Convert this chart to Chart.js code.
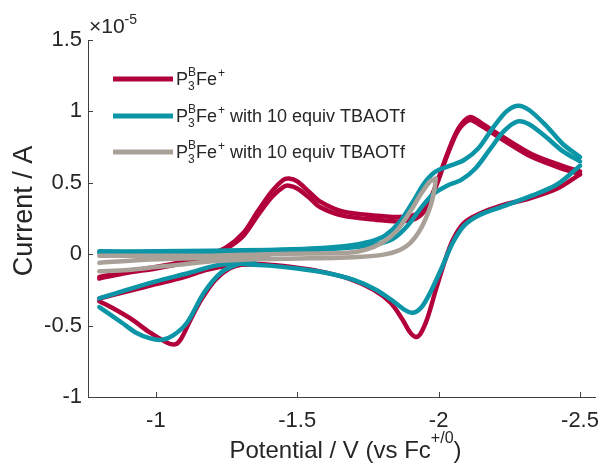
<!DOCTYPE html>
<html>
<head>
<meta charset="utf-8">
<script src="https://cdn.jsdelivr.net/npm/chart.js@4.4.1/dist/chart.umd.min.js"></script>
<style>
html, body { margin: 0; padding: 0; background: #fff; }
</style>
</head>
<body>
<canvas id="cv" width="600" height="463"></canvas>
<script>
// potential in V vs Fc+/0, current in units of 1e-5 A
const xTicks = [-2.5, -2, -1.5, -1];
const yTicks = [-1, -0.5, 0, 0.5, 1, 1.5];
const legendSuffix = ['', ' with 10 equiv TBAOTf', ' with 10 equiv TBAOTf'];
const colors = ['#B2003B', '#0B95A6', '#A9A097'];

// P3BFe+
const redFwd1 = [[-0.80,-0.16],[-0.90,-0.12],[-1.00,-0.09],[-1.10,-0.05],[-1.18,-0.01],[-1.25,0.05],[-1.31,0.15],[-1.36,0.30],[-1.41,0.44],[-1.45,0.52],[-1.47,0.53],[-1.50,0.51],[-1.54,0.44],[-1.58,0.37],[-1.66,0.30],[-1.78,0.27],[-1.86,0.26],[-1.92,0.28],[-1.96,0.35],[-1.99,0.48],[-2.03,0.70],[-2.07,0.88],[-2.11,0.96],[-2.15,0.92],[-2.22,0.83],[-2.33,0.70],[-2.45,0.61],[-2.50,0.58]];
const redFwd2 = [[-0.80,-0.17],[-0.90,-0.13],[-1.00,-0.10],[-1.10,-0.06],[-1.18,-0.02],[-1.25,0.04],[-1.31,0.13],[-1.36,0.27],[-1.41,0.40],[-1.45,0.47],[-1.47,0.48],[-1.50,0.46],[-1.54,0.40],[-1.58,0.33],[-1.66,0.27],[-1.78,0.24],[-1.86,0.23],[-1.92,0.25],[-1.96,0.33],[-1.99,0.47],[-2.03,0.69],[-2.07,0.87],[-2.11,0.94],[-2.15,0.90],[-2.22,0.81],[-2.33,0.68],[-2.45,0.59],[-2.50,0.56]];
const redRev = [[-2.50,0.56],[-2.42,0.46],[-2.32,0.39],[-2.22,0.34],[-2.14,0.28],[-2.09,0.22],[-2.05,0.10],[-2.02,-0.06],[-1.99,-0.25],[-1.96,-0.45],[-1.935,-0.56],[-1.92,-0.58],[-1.90,-0.55],[-1.87,-0.45],[-1.83,-0.34],[-1.77,-0.25],[-1.68,-0.17],[-1.58,-0.12],[-1.48,-0.09],[-1.38,-0.07],[-1.31,-0.07],[-1.26,-0.10],[-1.21,-0.18],[-1.16,-0.32],[-1.12,-0.47],[-1.09,-0.59],[-1.07,-0.63],[-1.04,-0.62],[-0.98,-0.55],[-0.91,-0.45],[-0.85,-0.38],[-0.80,-0.33]];
const redTail = [[-0.80,-0.31],[-0.90,-0.26],[-1.00,-0.21],[-1.10,-0.16],[-1.18,-0.11],[-1.26,-0.08],[-1.35,-0.07]];

// with 10 equiv TBAOTf
const tealFwd1 = [[-0.80,0.02],[-1.00,0.02],[-1.20,0.025],[-1.40,0.03],[-1.55,0.04],[-1.68,0.06],[-1.76,0.09],[-1.81,0.13],[-1.86,0.22],[-1.91,0.37],[-1.95,0.50],[-1.99,0.58],[-2.04,0.62],[-2.09,0.66],[-2.14,0.74],[-2.19,0.88],[-2.24,1.00],[-2.28,1.04],[-2.32,1.01],[-2.38,0.90],[-2.44,0.77],[-2.50,0.68]];
const tealFwd2 = [[-0.80,0.01],[-1.00,0.01],[-1.20,0.015],[-1.40,0.02],[-1.55,0.03],[-1.68,0.045],[-1.78,0.07],[-1.84,0.11],[-1.89,0.20],[-1.94,0.33],[-1.98,0.42],[-2.03,0.48],[-2.08,0.52],[-2.13,0.60],[-2.18,0.73],[-2.23,0.86],[-2.28,0.93],[-2.32,0.91],[-2.38,0.82],[-2.44,0.72],[-2.50,0.65]];
const tealRev = [[-2.50,0.62],[-2.42,0.49],[-2.33,0.41],[-2.22,0.33],[-2.14,0.27],[-2.09,0.20],[-2.05,0.08],[-2.01,-0.10],[-1.97,-0.27],[-1.94,-0.37],[-1.91,-0.41],[-1.88,-0.39],[-1.84,-0.33],[-1.78,-0.25],[-1.70,-0.18],[-1.60,-0.13],[-1.50,-0.10],[-1.40,-0.08],[-1.32,-0.07],[-1.29,-0.07],[-1.23,-0.13],[-1.17,-0.27],[-1.11,-0.48],[-1.06,-0.57],[-1.02,-0.60],[-0.98,-0.59],[-0.93,-0.55],[-0.88,-0.48],[-0.80,-0.37]];
const tealTail = [[-0.80,-0.31],[-0.88,-0.26],[-1.00,-0.19],[-1.12,-0.13],[-1.21,-0.08],[-1.29,-0.06],[-1.35,-0.06]];

// second TBAOTf trace
const grayFwd = [[-0.80,-0.01],[-1.00,-0.01],[-1.20,-0.01],[-1.40,0.0],[-1.55,0.005],[-1.68,0.01],[-1.74,0.03],[-1.80,0.08],[-1.85,0.16],[-1.90,0.30],[-1.94,0.43],[-1.97,0.51],[-1.99,0.53]];
const grayRev = [[-1.99,0.53],[-1.985,0.45],[-1.97,0.33],[-1.94,0.19],[-1.90,0.08],[-1.85,0.02],[-1.78,-0.01],[-1.65,-0.025],[-1.50,-0.03],[-1.35,-0.035],[-1.20,-0.05],[-1.10,-0.07],[-1.00,-0.09],[-0.90,-0.11],[-0.80,-0.12]];
const grayMid = [[-0.80,-0.06],[-0.95,-0.04],[-1.10,-0.03],[-1.25,-0.025],[-1.40,-0.02]];

const FONT = "'Liberation Sans', Arial, Helvetica, sans-serif";
const INK = '#262626';

function trace(pts, ci, order) {
  return {
    data: pts.map(p => ({ x: p[0], y: p[1] })),
    showLine: true,
    borderColor: colors[ci],
    borderWidth: 4.5,
    pointRadius: 0,
    tension: 0.3,
    borderCapStyle: 'round',
    borderJoinStyle: 'round',
    order: order
  };
}

// P3BFe+ with stacked super/subscript, returns end x
function drawComplex(ctx, x, base, size) {
  const small = Math.round(size * 0.68);
  ctx.textAlign = 'left';
  ctx.textBaseline = 'alphabetic';
  ctx.font = size + 'px ' + FONT;
  ctx.fillText('P', x, base);
  x += ctx.measureText('P').width;
  ctx.font = small + 'px ' + FONT;
  ctx.fillText('B', x, base - size * 0.48);
  ctx.fillText('3', x, base + size * 0.3);
  x += ctx.measureText('B').width;
  ctx.font = size + 'px ' + FONT;
  ctx.fillText('Fe', x, base);
  x += ctx.measureText('Fe').width;
  ctx.font = small + 'px ' + FONT;
  ctx.fillText('+', x + 1, base - size * 0.45);
  x += ctx.measureText('+').width + 1;
  return x;
}

const decor = {
  id: 'decor',
  afterDraw(chart) {
    const ctx = chart.ctx;
    const a = chart.chartArea;
    const xs = chart.scales.x, ys = chart.scales.y;
    ctx.save();
    // inward tick marks
    ctx.strokeStyle = '#404040';
    ctx.lineWidth = 1;
    ctx.beginPath();
    xTicks.forEach(v => {
      const px = Math.round(xs.getPixelForValue(v)) + 0.5;
      ctx.moveTo(px, a.bottom); ctx.lineTo(px, a.bottom - 5);
    });
    yTicks.forEach(v => {
      const py = Math.round(ys.getPixelForValue(v)) + 0.5;
      ctx.moveTo(a.left, py); ctx.lineTo(a.left + 5, py);
    });
    ctx.stroke();

    ctx.fillStyle = INK;
    // exponent label
    ctx.textAlign = 'left';
    ctx.textBaseline = 'alphabetic';
    ctx.font = '21px ' + FONT;
    ctx.fillText('\u00d710', a.left + 1, 33);
    const w10 = ctx.measureText('\u00d710').width;
    ctx.font = '14px ' + FONT;
    ctx.fillText('-5', a.left + 1 + w10, 24);

    // legend
    const rows = [79, 116, 152];
    rows.forEach((ly, i) => {
      ctx.strokeStyle = colors[i];
      ctx.lineWidth = 5;
      ctx.beginPath();
      ctx.moveTo(113, ly); ctx.lineTo(173, ly);
      ctx.stroke();
      ctx.fillStyle = INK;
      const ex = drawComplex(ctx, 176, ly + 6, 18);
      ctx.font = '18px ' + FONT;
      ctx.fillText(legendSuffix[i], ex, ly + 6);
    });

    // y title
    ctx.save();
    ctx.translate(32, 211);
    ctx.rotate(-Math.PI / 2);
    ctx.font = '27px ' + FONT;
    ctx.textAlign = 'center';
    ctx.textBaseline = 'alphabetic';
    ctx.fillText('Current / A', 0, 0);
    ctx.restore();

    // x title
    ctx.font = '24px ' + FONT;
    const t1 = 'Potential / V (vs Fc';
    const w1 = ctx.measureText(t1).width;
    ctx.font = '16px ' + FONT;
    const w2 = ctx.measureText('+/0').width;
    ctx.font = '24px ' + FONT;
    const w3 = ctx.measureText(')').width;
    let tx = (a.left + a.right) / 2 + 4 - (w1 + w2 + w3) / 2;
    ctx.textAlign = 'left';
    ctx.textBaseline = 'alphabetic';
    ctx.fillText(t1, tx, 458);
    ctx.font = '16px ' + FONT;
    ctx.fillText('+/0', tx + w1, 443);
    ctx.font = '24px ' + FONT;
    ctx.fillText(')', tx + w1 + w2, 458);
    ctx.restore();
  }
};

new Chart(document.getElementById('cv'), {
  type: 'scatter',
  data: {
    datasets: [
      trace(grayFwd, 2, 0), trace(grayRev, 2, 0), trace(grayMid, 2, 0),
      trace(tealFwd1, 1, 1), trace(tealFwd2, 1, 1), trace(tealRev, 1, 1), trace(tealTail, 1, 1),
      trace(redFwd1, 0, 2), trace(redFwd2, 0, 2), trace(redRev, 0, 2), trace(redTail, 0, 2)
    ]
  },
  plugins: [decor],
  options: {
    responsive: false,
    animation: false,
    layout: { padding: { top: 40, right: 5, left: 0, bottom: 0 } },
    plugins: { legend: { display: false }, tooltip: { enabled: false } },
    scales: {
      x: {
        type: 'linear',
        reverse: true,
        min: -2.553,
        max: -0.76,
        afterBuildTicks: s => { s.ticks = xTicks.map(v => ({ value: v })); },
        afterFit: s => { s.height = 66; },
        ticks: { color: INK, font: { family: FONT, size: 22 }, padding: 11, maxRotation: 0, callback: v => String(v) },
        grid: { display: false, drawTicks: false },
        border: { display: true, color: '#404040', width: 1 }
      },
      y: {
        min: -1,
        max: 1.5,
        afterBuildTicks: s => { s.ticks = yTicks.map(v => ({ value: v })); },
        afterFit: s => { s.width = 88; },
        ticks: { color: INK, font: { family: FONT, size: 22 }, padding: 6, callback: v => String(v) },
        grid: { display: false, drawTicks: false },
        border: { display: true, color: '#404040', width: 1 }
      }
    }
  }
});
</script>
</body>
</html>
